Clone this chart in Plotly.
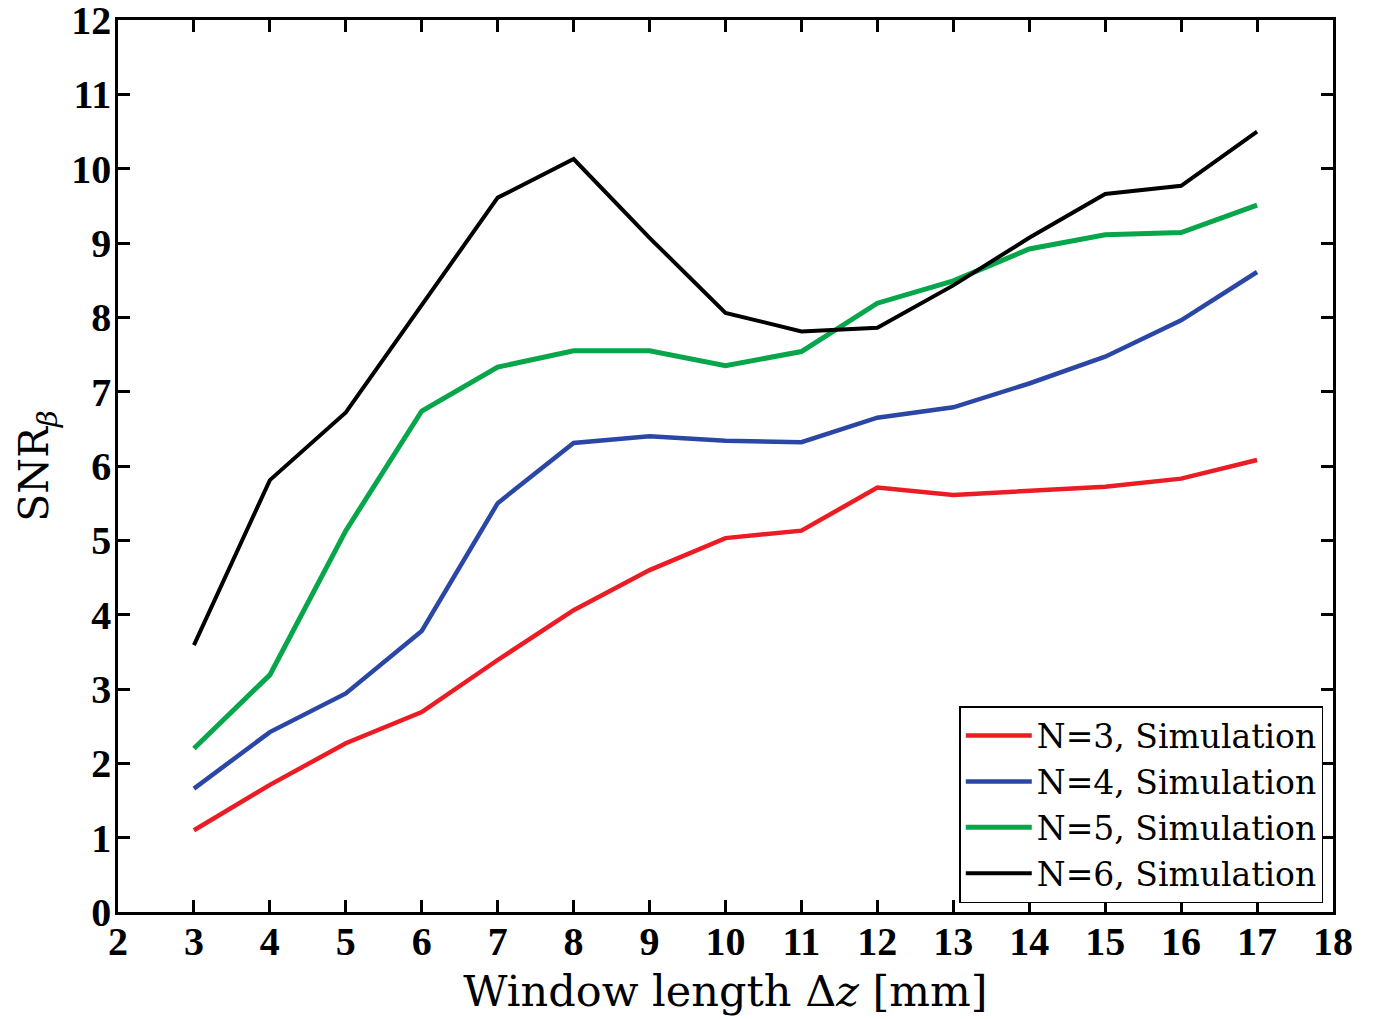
import plotly.graph_objects as go

# Window length Δz [mm]
window_mm = [3, 4, 5, 6, 7, 8, 9, 10, 11, 12, 13, 14, 15, 16, 17]

# SNR_beta for each number of elements N (simulation)
snr_n3 = [1.10, 1.71, 2.27, 2.69, 3.39, 4.06, 4.60, 5.03, 5.13, 5.71, 5.61, 5.67, 5.72, 5.83, 6.08]
snr_n4 = [1.66, 2.42, 2.94, 3.78, 5.50, 6.31, 6.40, 6.34, 6.32, 6.65, 6.79, 7.11, 7.47, 7.96, 8.61]
snr_n5 = [2.20, 3.19, 5.13, 6.74, 7.33, 7.55, 7.55, 7.35, 7.54, 8.19, 8.49, 8.92, 9.11, 9.14, 9.51]
snr_n6 = [3.59, 5.81, 6.72, 8.16, 9.61, 10.13, 9.07, 8.06, 7.81, 7.86, 8.43, 9.07, 9.66, 9.77, 10.50]

series_names = ["N=3, Simulation", "N=4, Simulation", "N=5, Simulation", "N=6, Simulation"]
series_values = [snr_n3, snr_n4, snr_n5, snr_n6]
series_colors = ["#ec1c24", "#2b47a6", "#07a64b", "#000000"]
series_widths = [4.5, 4.5, 5, 4]

x_ticks = list(range(2, 19))
y_ticks = list(range(0, 13))

TICK_FONT = "Liberation Serif, Times New Roman, serif"
TEXT_FONT = "DejaVu Serif, serif"

fig = go.Figure()
for name, vals, col, w in zip(series_names, series_values, series_colors, series_widths):
    fig.add_trace(go.Scatter(
        x=window_mm, y=vals, mode="lines", name=name,
        line=dict(color=col, width=w),
    ))

axis_common = dict(
    showline=True, linecolor="black", linewidth=2.5, mirror="allticks",
    ticks="inside", ticklen=12, tickwidth=2.5, tickcolor="black",
    showgrid=False, zeroline=False, automargin=False,
    ticklabeloverflow="allow",
    tickfont=dict(family=TICK_FONT, size=40, color="black"),
)

fig.update_xaxes(
    range=[2, 18.0001], tickmode="array", tickvals=x_ticks,
    ticktext=[f"<b>{t}</b>" for t in x_ticks],
    ticklabelstandoff=-8,
    title=dict(text="Window length Δ<i>z</i> [mm]",
               font=dict(family=TEXT_FONT, size=43, color="black"), standoff=14),
    **axis_common,
)
fig.update_yaxes(
    range=[0, 12.0001], tickmode="array", tickvals=y_ticks,
    ticktext=[f"<b>{t}</b>" for t in y_ticks],
    ticklabelstandoff=-4,
    title=dict(text="SNR<sub><i>β</i></sub>",
               font=dict(family=TEXT_FONT, size=41, color="black"), standoff=10),
    **axis_common,
)

fig.update_layout(
    width=1378, height=1019,
    margin=dict(l=118, r=45, t=20, b=107),
    paper_bgcolor="white", plot_bgcolor="white",
    showlegend=True,
    legend=dict(
        x=0.992, y=0.01, xanchor="right", yanchor="bottom",
        bgcolor="white", bordercolor="black", borderwidth=1.5,
        font=dict(family=TEXT_FONT, size=33, color="black"),
        itemwidth=66, tracegroupgap=0,
    ),
)

fig.write_html("out.html")
